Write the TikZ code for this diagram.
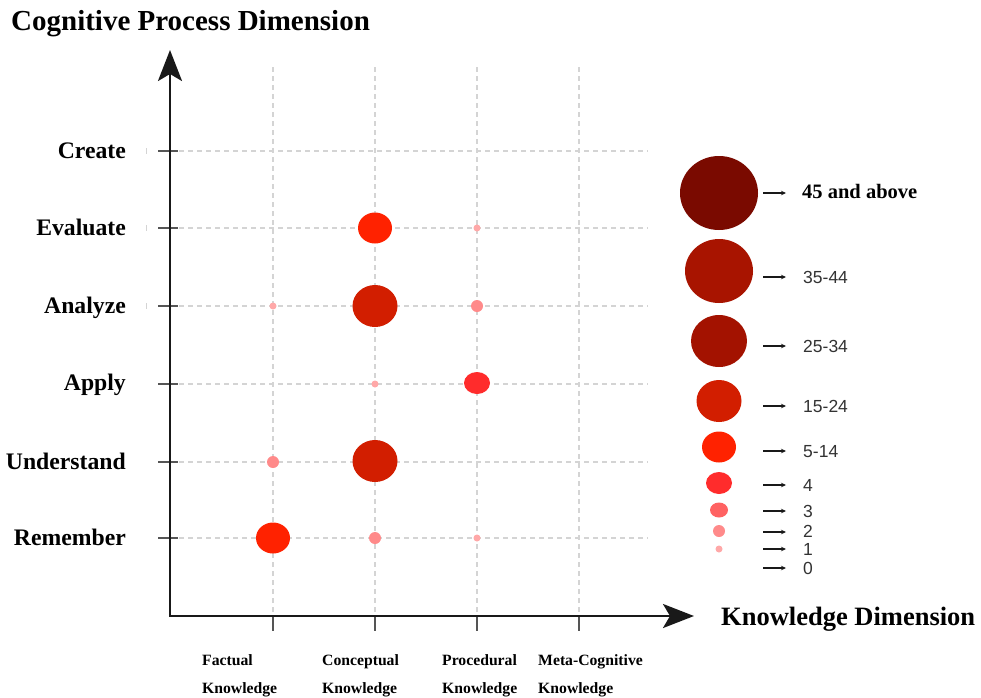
\documentclass[tikz,border=0pt]{standalone}
\usepackage{fontspec}
\setmainfont{Liberation Serif}
\setsansfont{Liberation Sans}
\usetikzlibrary{arrows.meta,shapes.geometric}
\definecolor{cA}{HTML}{7A0A00}
\definecolor{cB}{HTML}{A81400}
\definecolor{cC}{HTML}{A31200}
\definecolor{cD}{HTML}{D21E00}
\definecolor{cE}{HTML}{FF2200}
\definecolor{cF}{HTML}{FF2C2C}
\definecolor{cG}{HTML}{FF6262}
\definecolor{cH}{HTML}{FF8A8A}
\definecolor{cI}{HTML}{FFA8A8}
\definecolor{gridc}{HTML}{D4D4D4}
\definecolor{tickc}{HTML}{555555}
\definecolor{legtext}{HTML}{333333}
\begin{document}
\begin{tikzpicture}[x=1pt,y=-1pt,
  gridline/.style={draw=gridc,line width=1.2pt,dash pattern=on 5pt off 4pt},
  tickline/.style={draw=tickc,line width=1.8pt},
  axisline/.style={draw=black!90,line width=2.6pt,
     {Stealth[length=31pt,width=24pt,inset=7pt]}-{Stealth[length=31pt,width=24pt,inset=7pt]}},
  bubble/.style={ellipse,inner sep=0pt,draw=none},
  lvA/.style={bubble,fill=cA,minimum width=78pt,minimum height=74pt},
  lvB/.style={bubble,fill=cB,minimum width=68pt,minimum height=64pt},
  lvC/.style={bubble,fill=cC,minimum width=56pt,minimum height=52pt},
  lvD/.style={bubble,fill=cD,minimum width=45pt,minimum height=42pt},
  lvE/.style={bubble,fill=cE,minimum width=34pt,minimum height=31pt},
  lvF/.style={bubble,fill=cF,minimum width=26pt,minimum height=22pt},
  lvG/.style={bubble,fill=cG,minimum width=18pt,minimum height=15pt},
  lvH/.style={bubble,fill=cH,minimum width=12pt,minimum height=12pt},
  lvI/.style={bubble,fill=cI,minimum width=7pt,minimum height=7pt},
  rowlabel/.style={anchor=base east,inner sep=0pt,font=\fontsize{23.7}{28}\selectfont\bfseries},
  collabel/.style={anchor=base west,inner sep=0pt,font=\fontsize{15.7}{18}\selectfont\bfseries},
  legnum/.style={anchor=west,inner sep=0pt,text=legtext,font=\fontsize{17.5}{20}\selectfont\sffamily},
  legarrow/.style={draw=black!90,line width=1.4pt,-{Stealth[length=5pt,width=4.5pt]}},
  faint/.style={draw=gridc,line width=1pt}
]
\useasboundingbox (0,0) rectangle (981,697);
\fill[white] (0,0) rectangle (981,697);

% titles
\node[anchor=base west,inner sep=0pt,font=\fontsize{29}{34}\selectfont\bfseries] (title) at (11,30) {Cognitive Process Dimension};
\node[anchor=base west,inner sep=0pt,font=\fontsize{26.5}{30}\selectfont\bfseries] (xtitle) at (721,625) {Knowledge Dimension};

% grid: vertical
\foreach \x/\n in {273/fa,375/co,477/pr,579/me}{
  \coordinate (gt\n) at (\x,67);
  \coordinate (gb\n) at (\x,616);
  \coordinate (tk\n) at (\x,631);
  \draw[gridline] (gt\n) -- (gb\n);
  \draw[tickline] (gb\n) -- (tk\n);
}
% grid: horizontal
\foreach \y/\n in {151/cr,228/ev,306/an,384/ap,462/un,538/re}{
  \coordinate (gl\n) at (170,\y);
  \coordinate (gr\n) at (648,\y);
  \coordinate (ta\n) at (158,\y);
  \coordinate (tb\n) at (178,\y);
  \draw[gridline] (gl\n) -- (gr\n);
  \draw[tickline] (ta\n) -- (tb\n);
}
% faint marks left of ticks
\foreach \y/\n in {151/cr,228/ev,306/an}{
  \coordinate (fa\n) at (146,\y-3);
  \coordinate (fb\n) at (146,\y+3);
  \draw[faint] (fa\n) -- (fb\n);
}

% row labels
\node[rowlabel] (lcr) at (126,158) {Create};
\node[rowlabel] (lev) at (126,235) {Evaluate};
\node[rowlabel] (lan) at (126,313) {Analyze};
\node[rowlabel] (lap) at (126,390) {Apply};
\node[rowlabel] (lun) at (126,469) {Understand};
\node[rowlabel] (lre) at (126,545) {Remember};

% column labels
\node[collabel] (fa1) at (202,665) {Factual};
\node[collabel] (fa2) at (202,693) {Knowledge};
\node[collabel] (co1) at (322,665) {Conceptual};
\node[collabel] (co2) at (322,693) {Knowledge};
\node[collabel] (pr1) at (442,665) {Procedural};
\node[collabel] (pr2) at (442,693) {Knowledge};
\node[collabel] (me1) at (538,665) {Meta-Cognitive};
\node[collabel] (me2) at (538,693) {Knowledge};

% data bubbles
\node[lvE] (b-ev-co) at (375,228) {};
\node[lvI] (b-ev-pr) at (477,228) {};
\node[lvI] (b-an-fa) at (273,306) {};
\node[lvD] (b-an-co) at (375,306) {};
\node[lvH] (b-an-pr) at (477,306) {};
\node[lvI] (b-ap-co) at (375,384) {};
\node[lvF] (b-ap-pr) at (477,383) {};
\node[lvH] (b-un-fa) at (273,462) {};
\node[lvD] (b-un-co) at (375,461) {};
\node[lvE] (b-re-fa) at (273,538) {};
\node[lvH] (b-re-co) at (375,538) {};
\node[lvI] (b-re-pr) at (477,538) {};

% axes
\coordinate (O) at (170,616);
\coordinate (ytip) at (170,50);
\coordinate (xtip) at (694,616);
\draw[axisline] (ytip) -- (O) -- (xtip);

% legend
\node[lvA] (kA) at (719,193) {};
\node[lvB] (kB) at (719,271) {};
\node[lvC] (kC) at (719,341) {};
\node[lvD] (kD) at (719,401) {};
\node[lvE] (kE) at (719,447) {};
\node[lvF] (kF) at (719,483) {};
\node[lvG] (kG) at (719,510) {};
\node[lvH] (kH) at (719,531) {};
\node[lvI] (kI) at (719,549) {};

\foreach \y/\n in {193/A,277/B,346/C,406/D,451/E,485/F,511/G,532/H,549/I,568/J}{
  \coordinate (as\n) at (763,\y);
  \coordinate (ae\n) at (786,\y);
  \draw[legarrow] (as\n) -- (ae\n);
}
\node[anchor=west,inner sep=0pt,font=\fontsize{20.5}{24}\selectfont\bfseries] (tA) at (802,191) {45 and above};
\node[legnum] (tB) at (803,277) {35-44};
\node[legnum] (tC) at (803,346) {25-34};
\node[legnum] (tD) at (803,406) {15-24};
\node[legnum] (tE) at (803,452) {5-14};
\node[legnum] (tF) at (803,485) {4};
\node[legnum] (tG) at (803,511) {3};
\node[legnum] (tH) at (803,531) {2};
\node[legnum] (tI) at (803,549) {1};
\node[legnum] (tJ) at (803,568) {0};
\end{tikzpicture}
\end{document}
